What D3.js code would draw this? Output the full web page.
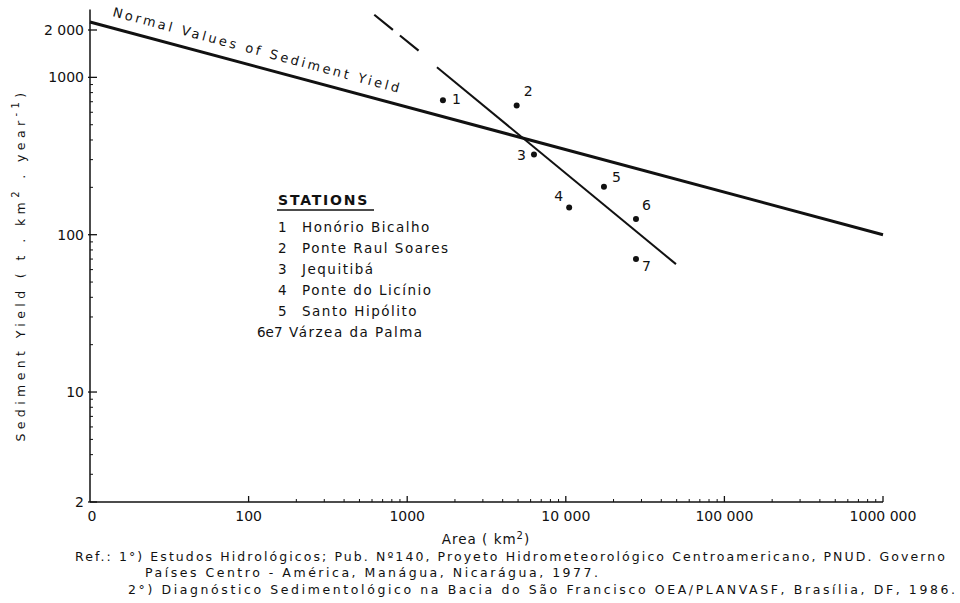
<!DOCTYPE html>
<html lang="en">
<head>
<meta charset="UTF-8">
<title>Sediment Yield</title>
<script src="https://cdn.jsdelivr.net/npm/d3@7"></script>
<style>
  body { margin: 0; background: #fff; }
  svg { display: block; }
  text { font-family: "DejaVu Sans", sans-serif; fill: #111; }
</style>
</head>
<body>
<div id="chart"></div>
<script>
// axis ticks
const areaTicks = [10, 100, 1000, 10000, 100000, 1000000];
const areaTickLabels = ["0", "100", "1000", "10 000", "100 000", "1000 000"];
const yieldTicks = [2, 10, 100, 1000, 2000];
const yieldTickLabels = ["2", "10", "100", "1000", "2 000"];

// stations (area km2, sediment yield t/km2/year)
const stationIds = ["1", "2", "3", "4", "5", "6", "7"];
const stationArea = [1680, 4900, 6300, 10500, 17400, 27700, 27700];
const stationYield = [715, 663, 323, 149, 202, 126, 70];

// normal values line
const normalArea = [10, 1000000];
const normalYield = [2250, 100];

// fitted line for the stations: dashed part then solid part
const trendDashArea = [620, 1240];
const trendDashYield = [2500, 1420];
const trendSolidArea = [1540, 49500];
const trendSolidYield = [1160, 65];

// legend
const legendNums = ["1", "2", "3", "4", "5", "6e7"];
const legendNames = ["Honório Bicalho", "Ponte Raul Soares", "Jequitibá",
                     "Ponte do Licínio", "Santo Hipólito", "Várzea da Palma"];

const W = 960, H = 603;
const svg = d3.select("#chart").append("svg").attr("width", W).attr("height", H);

const x = d3.scaleLog().domain([10, 1000000]).range([90, 883]);
const y = d3.scaleLog().domain([2, 2000]).range([502, 30]);

// axes lines
svg.append("line").attr("x1", x(10)).attr("x2", x(10))
  .attr("y1", y(2)).attr("y2", y(2700)).attr("stroke", "#111").attr("stroke-width", 1.5);
svg.append("line").attr("x1", x(10)).attr("x2", x(1000000))
  .attr("y1", y(2)).attr("y2", y(2)).attr("stroke", "#111").attr("stroke-width", 1.5);

// y ticks
const yMinor = y.ticks().filter(v => v > 2 && v < 1000 && yieldTicks.indexOf(v) < 0);
svg.selectAll(".ymin").data(yMinor).enter().append("line")
  .attr("x1", x(10)).attr("x2", x(10) + 3)
  .attr("y1", d => y(d)).attr("y2", d => y(d)).attr("stroke", "#111");
svg.selectAll(".ymaj").data(yieldTicks).enter().append("line")
  .attr("x1", x(10) - 2).attr("x2", x(10) + 7)
  .attr("y1", d => y(d)).attr("y2", d => y(d)).attr("stroke", "#111").attr("stroke-width", 1.3);
svg.selectAll(".ylab").data(yieldTicks).enter().append("text")
  .attr("x", x(10) - 6).attr("y", d => y(d) + 5)
  .attr("text-anchor", "end").style("font-size", "14px")
  .text((d, i) => yieldTickLabels[i]);

// x ticks
const xMinor = x.ticks().filter(v => v > 100 && areaTicks.indexOf(v) < 0);
svg.selectAll(".xmin").data(xMinor).enter().append("line")
  .attr("x1", d => x(d)).attr("x2", d => x(d))
  .attr("y1", y(2)).attr("y2", y(2) - 3).attr("stroke", "#111");
svg.selectAll(".xmaj").data(areaTicks.slice(1)).enter().append("line")
  .attr("x1", d => x(d)).attr("x2", d => x(d))
  .attr("y1", y(2)).attr("y2", y(2) - 6).attr("stroke", "#111").attr("stroke-width", 1.3);
svg.selectAll(".xlab").data(areaTicks).enter().append("text")
  .attr("x", d => x(d) + (d === 10 ? 2 : 0)).attr("y", y(2) + 19)
  .attr("text-anchor", "middle").style("font-size", "14px")
  .text((d, i) => areaTickLabels[i]);

// lines
const line = d3.line().x(d => x(d[0])).y(d => y(d[1]));
svg.append("path").datum(d3.zip(normalArea, normalYield)).attr("d", line)
  .attr("fill", "none").attr("stroke", "#111").attr("stroke-width", 3);
svg.append("path").datum(d3.zip(trendDashArea, trendDashYield)).attr("d", line)
  .attr("fill", "none").attr("stroke", "#111").attr("stroke-width", 2.2)
  .attr("stroke-dasharray", "24,9");
svg.append("path").datum(d3.zip(trendSolidArea, trendSolidYield)).attr("d", line)
  .attr("fill", "none").attr("stroke", "#111").attr("stroke-width", 2);

// line label
const ang = Math.atan2(y(normalYield[1]) - y(normalYield[0]), x(normalArea[1]) - x(normalArea[0])) * 180 / Math.PI;
svg.append("text").attr("transform", `translate(112,16) rotate(${ang})`)
  .attr("textLength", 296).attr("lengthAdjust", "spacing")
  .style("font-size", "13px")
  .text("Normal Values of Sediment Yield");

// stations
const labOff = [[9, 4], [7, -9], [-17, 5], [-15, -6], [8, -5], [6, -9], [6, 12]];
const st = d3.zip(stationArea, stationYield);
svg.selectAll(".dot").data(st).enter().append("circle")
  .attr("cx", d => x(d[0])).attr("cy", d => y(d[1])).attr("r", 3).attr("fill", "#111");
svg.selectAll(".slab").data(st).enter().append("text")
  .attr("x", (d, i) => x(d[0]) + labOff[i][0]).attr("y", (d, i) => y(d[1]) + labOff[i][1])
  .style("font-size", "14px").text((d, i) => stationIds[i]);

// legend
const lg = svg.append("g");
lg.append("text").attr("x", 278).attr("y", 205).style("font-size", "14px")
  .style("font-weight", "bold").style("letter-spacing", "1.8px").text("STATIONS");
lg.append("line").attr("x1", 277).attr("x2", 374).attr("y1", 210).attr("y2", 210)
  .attr("stroke", "#111").attr("stroke-width", 1.5);
legendNames.forEach((name, i) => {
  const yy = 232 + i * 21;
  lg.append("text").attr("x", i === 5 ? 257 : 278).attr("y", yy)
    .style("font-size", "13.5px").text(legendNums[i]);
  lg.append("text").attr("x", i === 5 ? 289 : 302).attr("y", yy)
    .style("font-size", "13.5px").style("letter-spacing", "1.5px").text(name);
});

// axis titles
const yt = svg.append("text").attr("transform", "translate(25,265) rotate(-90)")
  .attr("text-anchor", "middle").style("font-size", "12.5px").style("letter-spacing", "4.4px");
yt.append("tspan").text("Sediment Yield ( t . km");
yt.append("tspan").attr("dy", -6).style("font-size", "10px").text("2");
yt.append("tspan").attr("dy", 6).text(" . year");
yt.append("tspan").attr("dy", -6).style("font-size", "10px").text("-1");
yt.append("tspan").attr("dy", 6).text(")");

const xt = svg.append("text").attr("x", 486).attr("y", 544).attr("text-anchor", "middle")
  .style("font-size", "13.5px").style("letter-spacing", "1px");
xt.append("tspan").text("Area ( km");
xt.append("tspan").attr("dy", -5).style("font-size", "10px").text("2");
xt.append("tspan").attr("dy", 5).text(")");

// references
const refs = [
  ["Ref.: 1°) Estudos Hidrológicos; Pub. Nº140, Proyeto Hidrometeorológico Centroamericano, PNUD. Governo", 75, 561, 870],
  ["Países Centro - América, Manágua, Nicarágua, 1977.", 145, 577, 453],
  ["2°) Diagnóstico Sedimentológico na Bacia do São Francisco OEA/PLANVASF, Brasília, DF, 1986.", 128, 594, 827]
];
svg.selectAll(".ref").data(refs).enter().append("text")
  .attr("x", d => d[1]).attr("y", d => d[2])
  .attr("textLength", d => d[3]).attr("lengthAdjust", "spacing")
  .style("font-size", "12.5px").text(d => d[0]);
</script>
</body>
</html>
